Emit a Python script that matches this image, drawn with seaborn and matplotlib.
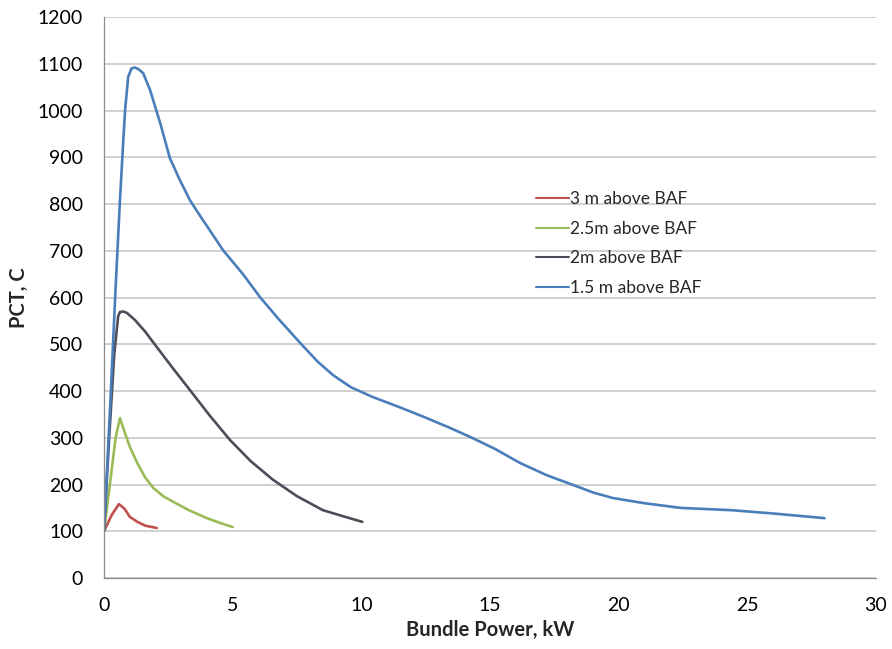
import matplotlib
matplotlib.use("Agg")
import matplotlib.pyplot as plt
import seaborn as sns
import pandas as pd

# Bundle power (kW) and peak cladding temperature (C) at each elevation
x_3m = [0.0, 0.3, 0.58, 0.8, 1.0, 1.3, 1.6, 2.05]
y_3m = [100, 135, 158, 148, 131, 120, 112, 107]

x_25m = [0.0, 0.25, 0.45, 0.62, 0.8, 1.0, 1.3, 1.6, 1.91, 2.3, 2.69, 3.3, 4.0, 4.5, 5.0]
y_25m = [100, 210, 300, 342, 312, 281, 245, 215, 193, 175, 163, 145, 128, 118, 109]

x_2m = [0.0, 0.2, 0.4, 0.55, 0.62, 0.75, 0.89, 1.2, 1.6, 2.05, 2.7, 3.34, 4.1, 4.9,
        5.7, 6.57, 7.5, 8.51, 9.3, 10.04]
y_2m = [100, 300, 480, 560, 569, 570, 567, 552, 527, 494, 447, 402, 348, 295,
        250, 210, 175, 145, 132, 120]

x_15m = [0.0, 0.25, 0.45, 0.62, 0.75, 0.82, 0.94, 1.07, 1.2, 1.35, 1.52, 1.79, 2.2,
         2.56, 2.95, 3.34, 3.73, 4.63, 5.4, 6.06, 6.8, 7.62, 8.3, 8.9, 9.6, 10.45,
         11.5, 12.5, 13.45, 14.22, 15.2, 16.17, 17.2, 18.23, 19.0, 19.78, 21.0,
         22.4, 24.4, 26.0, 28.0]
y_15m = [100, 380, 620, 808, 937, 1001, 1072, 1090, 1092, 1088, 1080, 1044, 970,
         898, 851, 808, 775, 701, 650, 601, 553, 503, 463, 434, 408, 387,
         365, 343, 321, 302, 276, 246, 220, 199, 183, 171, 160,
         150, 145, 138, 128]

series_names = ["3 m above BAF", "2.5m above BAF", "2m above BAF", "1.5 m above BAF"]
series_x = [x_3m, x_25m, x_2m, x_15m]
series_y = [y_3m, y_25m, y_2m, y_15m]
colors = ["#c0504d", "#9bbb59", "#4d4d5a", "#4a7ebb"]

x_ticks = [0, 5, 10, 15, 20, 25, 30]
y_ticks = list(range(0, 1201, 100))

frames = []
for name, xs, ys in zip(series_names, series_x, series_y):
    frames.append(pd.DataFrame({"power": xs, "pct": ys, "series": name}))
df = pd.concat(frames, ignore_index=True)

sns.set_style("white")
plt.rcParams["font.family"] = ["Lato", "DejaVu Sans"]

fig = plt.figure(figsize=(8.92, 6.49), dpi=100)
ax = fig.add_axes([0.1166, 0.1094, 0.8654, 0.8644])

sns.lineplot(data=df, x="power", y="pct", hue="series", hue_order=series_names,
             palette=colors, sort=False, estimator=None, units="series",
             linewidth=1.9, ax=ax, legend=False)

ax.set_xlim(0, 30)
ax.set_ylim(0, 1200)
ax.set_xticks(x_ticks)
ax.set_yticks(y_ticks)
ax.tick_params(axis="both", labelsize=14, colors="#000000", length=5,
               width=0.9, direction="out", color="#8c8c8c")
ax.tick_params(axis="y", pad=10)
ax.tick_params(axis="x", pad=9)
ax.grid(axis="y", color="#c4c4c4", linewidth=1.1)
ax.set_axisbelow(True)
for side in ["top", "right"]:
    ax.spines[side].set_visible(False)
for side in ["left", "bottom"]:
    ax.spines[side].set_color("#8c8c8c")
    ax.spines[side].set_linewidth(0.9)

ax.set_xlabel("Bundle Power, kW", fontsize=14.5, fontweight="bold", labelpad=4)
ax.set_ylabel("PCT, C", fontsize=14.5, fontweight="bold", labelpad=6)

handles = [plt.Line2D([], [], color=c, linewidth=1.5) for c in colors]
ax.legend(handles, series_names, loc="upper left", bbox_to_anchor=(0.55, 0.702),
          frameon=False, fontsize=12.5, handlelength=1.9, handletextpad=0.1,
          labelspacing=0.78, borderaxespad=0)

fig.savefig("out.png", dpi=100)
